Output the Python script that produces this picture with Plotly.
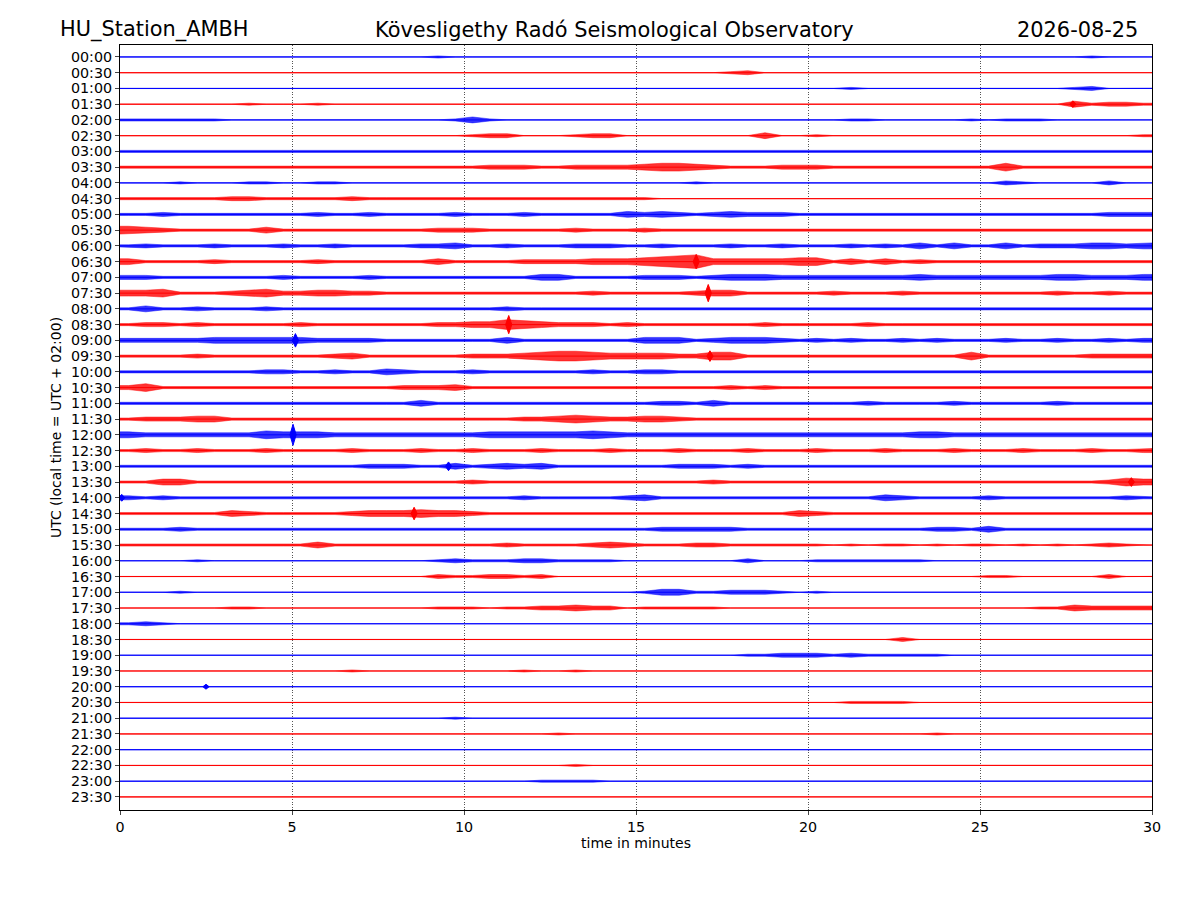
import plotly.graph_objects as go

# helicorder rows, one every 30 min (top to bottom)
ROW_LABELS = [
    "00:00", "00:30", "01:00", "01:30", "02:00", "02:30", "03:00", "03:30",
    "04:00", "04:30", "05:00", "05:30", "06:00", "06:30", "07:00", "07:30",
    "08:00", "08:30", "09:00", "09:30", "10:00", "10:30", "11:00", "11:30",
    "12:00", "12:30", "13:00", "13:30", "14:00", "14:30", "15:00", "15:30",
    "16:00", "16:30", "17:00", "17:30", "18:00", "18:30", "19:00", "19:30",
    "20:00", "20:30", "21:00", "21:30", "22:00", "22:30", "23:00", "23:30",
]
ROW_COLORS = ["#0000ff", "#ff0000"]
ROW_FILLS = ["rgba(0,0,255,0.8)", "rgba(255,0,0,0.8)"]

# trace envelope per row, one digit per half minute (0 = quiet ... 9 = strong)
ENVELOPE = [
    "0000000000" "0000000010" "0000000000" "0000000000" "0000000000" "0000001000",  # 00:00
    "0000000000" "0000000000" "0000000000" "0000012000" "0000000000" "0000000000",  # 00:30
    "0000000000" "0000000000" "0000000000" "0000000000" "0010000000" "0000012000",  # 01:00
    "0000000100" "0100000000" "0000000000" "0000000000" "0000000000" "0000031221",  # 01:30
    "1111110000" "0000000001" "3100000000" "0000000000" "0011000001" "0111000000",  # 02:00
    "0000000000" "0000000000" "1220001220" "0000000300" "1000000000" "0000000001",  # 02:30
    "1111111111" "1111111111" "1111111111" "1111111111" "1111111111" "1111111111",  # 03:00
    "1111111111" "1111111111" "1222112222" "3443211122" "2111111111" "1411111111",  # 03:30
    "0001000110" "0110000000" "0000000000" "0001000000" "0000000000" "0210000200",  # 04:00
    "1111112211" "1112111111" "1111111111" "1000000000" "0000000000" "0000000000",  # 04:30
    "1121111111" "1211211112" "1112111113" "2321232221" "1111111111" "1111111222",  # 05:00
    "4321111131" "1111111122" "2111112111" "2111111111" "1111111111" "1111111111",  # 05:30
    "1211121112" "1121111223" "1121112221" "1211121121" "1121213131" "1312223323",  # 06:00
    "3111121111" "1211111131" "1112222333" "4567333334" "4131312111" "1111111111",  # 06:30
    "2211111112" "1111211111" "1111331111" "2221233322" "2222223222" "2222332223",  # 07:00
    "3341112342" "2332211111" "1111111211" "1112331111" "1211121111" "1111211211",  # 07:30
    "1311211121" "1111111111" "1121111111" "1111111111" "1111111111" "1111111111",  # 08:00
    "1221211111" "2111111122" "3354322212" "1111111211" "1112111111" "1111111111",  # 08:30
    "2222233333" "3222211111" "1131111111" "3331233321" "2121121211" "1211211212",  # 09:00
    "1111211111" "1123111111" "2223455433" "3322441111" "1111111114" "1111112222",  # 09:30
    "1111111122" "1121132111" "2111111211" "2211111111" "1111111111" "1111111111",  # 10:00
    "2411111111" "1111112223" "1111111111" "1111121211" "1111111111" "1111111111",  # 10:30
    "1111111111" "1111111311" "1111111111" "1221311111" "1112111121" "1111211111",  # 11:00
    "1222331111" "1111111111" "1112234322" "3321111111" "1111111111" "1111111111",  # 11:30
    "3222222243" "3322222222" "2333333432" "2222222222" "2222223322" "2222222222",  # 12:00
    "1211211121" "1112111211" "2111211121" "1121112111" "2111211121" "1121112112",  # 12:30
    "1111111111" "1111222113" "1232311111" "1122212111" "1111111111" "1111111111",  # 13:00
    "1133111111" "1111111111" "2111111111" "1111211111" "1111111111" "1111111243",  # 13:30
    "2121111111" "1111111111" "1112111112" "3111111111" "1111321111" "2111111121",  # 14:00
    "1111113211" "1112333433" "2111111111" "1111111113" "2111111111" "1111111111",  # 14:30
    "1112111111" "1111111111" "1111111111" "1222221111" "1111111221" "3111111111",  # 15:00
    "1111111111" "1311111111" "1121111232" "1112211111" "1010110101" "1010101210",  # 15:30
    "0000100000" "0000000012" "1112211110" "0000002000" "1111111000" "0000000000",  # 16:00
    "0000000000" "0000000021" "1221200000" "0000000000" "0000000000" "1100000200",  # 16:30
    "0001000000" "0000000000" "0000000000" "1331122210" "1000000000" "0000000000",  # 17:00
    "0000001100" "0000000011" "1011223220" "1111100000" "0000000000" "0001132222",  # 17:30
    "1210000000" "0000000000" "0000000000" "0000000000" "0000000000" "0000000000",  # 18:00
    "0000000000" "0000000000" "0000000000" "0000000000" "0000020000" "0000000000",  # 18:30
    "0000000000" "0000000000" "0000000000" "0000001122" "2121111100" "0000000000",  # 19:00
    "0000000000" "0001000000" "0001001000" "0000000000" "0000000000" "0000000000",  # 19:30
    "0000000000" "0000000000" "0000000000" "0000000000" "0000000000" "0000000000",  # 20:00
    "0000000000" "0000000000" "0000000000" "0000000000" "0011110000" "0000000000",  # 20:30
    "0000000000" "0000000001" "0000000000" "0000000000" "0000000000" "0000000000",  # 21:00
    "0000000000" "0000000000" "0000010000" "0000000000" "0000000100" "0000000000",  # 21:30
    "0000000000" "0000000000" "0000000000" "0000000000" "0000000000" "0000000000",  # 22:00
    "0000000000" "0000000000" "0000001000" "0000000000" "0000000000" "0000000000",  # 22:30
    "0000000000" "0000000000" "0000111100" "0000000000" "0000000000" "0000000000",  # 23:00
    "0000000000" "0000000000" "0000000000" "0000000000" "0000000000" "0000000000",  # 23:30
]

# short sharp arrivals: row, minute, peak level
SPIKE_ROW = ["06:30", "07:30", "08:30", "09:00", "09:30", "12:00", "13:00",
             "14:30", "13:30", "20:00", "01:30", "14:00"]
SPIKE_MIN = [16.75, 17.1, 11.3, 5.1, 17.15, 5.03, 9.55, 8.55, 29.4, 2.5, 27.7, 0.05]
SPIKE_AMP = [7.5, 9, 9.5, 7, 5.5, 11, 4.5, 6.5, 4.5, 2.5, 3.5, 3.5]

X_TICKS = [0, 5, 10, 15, 20, 25, 30]

BIN_MIN = 0.5
PLOT_H = 765
Y_TOP, Y_BOTTOM = -0.76, 47.83
px_per_row = PLOT_H / (Y_BOTTOM - Y_TOP)
BASE_PX, LEVEL_PX = 0.1, 0.95


def amp_rows(level):
    return (BASE_PX + LEVEL_PX * level) / px_per_row


fig = go.Figure()

for i, levels in enumerate(ENVELOPE):
    amps = [amp_rows(int(c)) for c in levels]
    xs = [0] + [(k + 0.5) * BIN_MIN for k in range(len(levels))] + [30]
    amps = [amps[0]] + amps + [amps[-1]]
    color = ROW_COLORS[i % 2]
    fig.add_trace(go.Scatter(
        x=xs + xs[::-1],
        y=[i - a for a in amps] + [i + a for a in amps[::-1]],
        fill="toself", fillcolor=ROW_FILLS[i % 2],
        mode="lines", line=dict(color=ROW_FILLS[i % 2], width=0.6),
        hoverinfo="skip", showlegend=False,
    ))
    # zero line of the trace
    fig.add_trace(go.Scatter(
        x=[0, 30], y=[i, i], mode="lines", line=dict(color=color, width=1),
        hoverinfo="skip", showlegend=False,
    ))

for color_idx, color in enumerate(ROW_COLORS):
    sx, sy = [], []
    for row, m, a in zip(SPIKE_ROW, SPIKE_MIN, SPIKE_AMP):
        r = ROW_LABELS.index(row)
        if r % 2 != color_idx:
            continue
        h = amp_rows(a)
        sx += [m - 0.09, m, m + 0.09, m, m - 0.09, None]
        sy += [r, r - h, r, r + h, r, None]
    fig.add_trace(go.Scatter(
        x=sx, y=sy, fill="toself", fillcolor=color, mode="lines",
        line=dict(color=color, width=1), hoverinfo="skip", showlegend=False,
    ))

font = dict(family="DejaVu Sans", color="black")
titles = [
    ("HU_Station_AMBH", -0.060, "left"),
    ("Kövesligethy Radó Seismological Observatory", 0.4787, "center"),
    ("2026-08-25", 0.9883, "right"),
]
for text, x, anchor in titles:
    fig.add_annotation(text=text, x=x, y=1, xref="paper", yref="paper",
                       xanchor=anchor, yanchor="bottom", yshift=1,
                       showarrow=False, font=dict(size=20.9, **font))

fig.update_xaxes(
    range=[0, 30], tickvals=X_TICKS, ticks="outside", ticklen=4,
    tickfont=dict(size=14.3, **font),
    title=dict(text="time in minutes", font=dict(size=14, **font), standoff=4),
    showline=True, linecolor="black", linewidth=1, mirror=True,
    showgrid=True, gridcolor="#555555", griddash="1px,1.6px", gridwidth=0.8,
    zeroline=False,
)
fig.update_yaxes(
    range=[Y_BOTTOM, Y_TOP], tickvals=list(range(len(ROW_LABELS))),
    ticktext=ROW_LABELS, ticks="outside", ticklen=4,
    tickfont=dict(size=14.3, **font),
    title=dict(text="UTC (local time = UTC + 02:00)", font=dict(size=14, **font),
               standoff=6),
    showline=True, linecolor="black", linewidth=1, mirror=True,
    showgrid=False, zeroline=False,
)
# margins allow for the 8px page offset of the browser
fig.update_layout(
    width=1200, height=900,
    margin=dict(l=112, r=56, t=37, b=98),
    plot_bgcolor="white", paper_bgcolor="white",
)

fig.write_html("out.html")
